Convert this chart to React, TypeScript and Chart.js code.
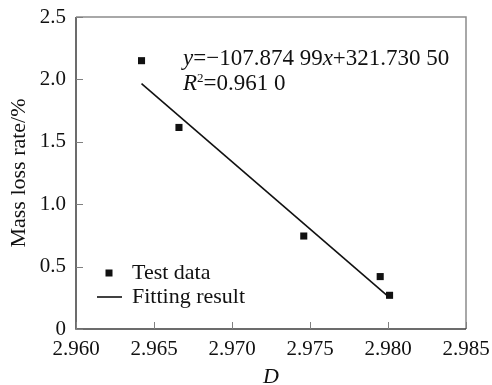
import React, { useEffect, useRef } from 'react';
import { Chart, registerables } from 'chart.js';

Chart.register(...registerables);

// ---- data ----
const testX = [2.9642, 2.9666, 2.9746, 2.9795, 2.9801];
const testY = [2.15, 1.615, 0.745, 0.42, 0.27];
const fitX = [2.9642, 2.9801];
const fitY = [1.966, 0.252];
const xTickValues = [2.96, 2.965, 2.97, 2.975, 2.98, 2.985];
const yTickValues = [0, 0.5, 1.0, 1.5, 2.0, 2.5];
const seriesNames = ['Test data', 'Fitting result'];
const xTitle = 'D';
const yTitle = 'Mass loss rate/%';
const eqLine1: [string, boolean][] = [['y', true], ['=\u2212107.874 99', false], ['x', true], ['+321.730 50', false]];
const eqLine2Main = 'R';
const eqLine2Sup = '2';
const eqLine2Rest = '=0.961 0';

const FONT = '"Liberation Serif", "Times New Roman", serif';
const TEXT = '#111';

const decoPlugin = {
  id: 'deco',
  beforeDatasetsDraw(chart: any) {
    const { ctx, chartArea: a, scales } = chart;
    const x = scales.x;
    const y = scales.y;
    ctx.save();
    // top / right frame
    ctx.strokeStyle = '#8c8c8c';
    ctx.lineWidth = 1.5;
    ctx.beginPath();
    ctx.moveTo(a.left, a.top);
    ctx.lineTo(a.right, a.top);
    ctx.lineTo(a.right, a.bottom);
    ctx.stroke();
    // axes
    ctx.strokeStyle = '#3c3c3c';
    ctx.beginPath();
    ctx.moveTo(a.left, a.top);
    ctx.lineTo(a.left, a.bottom);
    ctx.lineTo(a.right, a.bottom);
    ctx.stroke();
    // inner ticks
    ctx.strokeStyle = '#808080';
    ctx.lineWidth = 1;
    x.ticks.forEach((t: any) => {
      const px = Math.round(x.getPixelForValue(t.value)) + 0.5;
      ctx.beginPath();
      ctx.moveTo(px, a.bottom);
      ctx.lineTo(px, a.bottom - 7);
      ctx.stroke();
    });
    y.ticks.forEach((t: any) => {
      const py = Math.round(y.getPixelForValue(t.value)) + 0.5;
      ctx.beginPath();
      ctx.moveTo(a.left, py);
      ctx.lineTo(a.left + 7, py);
      ctx.stroke();
    });
    ctx.restore();
  },
  afterDraw(chart: any) {
    const { ctx, chartArea: a } = chart;
    ctx.save();
    ctx.fillStyle = TEXT;
    ctx.textBaseline = 'middle';

    // y title
    ctx.save();
    ctx.translate(19, (a.top + a.bottom) / 2);
    ctx.rotate(-Math.PI / 2);
    ctx.textAlign = 'center';
    ctx.font = `22px ${FONT}`;
    ctx.fillText(yTitle, 0, 0);
    ctx.restore();

    // x title
    ctx.textAlign = 'center';
    ctx.font = `italic 22px ${FONT}`;
    ctx.fillText(xTitle, (a.left + a.right) / 2, 377);

    // legend
    ctx.textAlign = 'left';
    ctx.font = `22px ${FONT}`;
    ctx.fillStyle = '#111';
    ctx.fillRect(a.left + 29.5, 269.5, 7, 7);
    ctx.strokeStyle = '#111';
    ctx.lineWidth = 1.6;
    ctx.beginPath();
    ctx.moveTo(a.left + 21, 297);
    ctx.lineTo(a.left + 46, 297);
    ctx.stroke();
    ctx.fillStyle = TEXT;
    ctx.fillText(seriesNames[0], a.left + 56, 273);
    ctx.fillText(seriesNames[1], a.left + 56, 297);

    // equation
    ctx.textBaseline = 'alphabetic';
    let cx = 183;
    eqLine1.forEach(([s, it]) => {
      ctx.font = `${it ? 'italic ' : ''}23px ${FONT}`;
      ctx.fillText(s, cx, 65);
      cx += ctx.measureText(s).width;
    });
    cx = 183;
    ctx.font = `italic 23px ${FONT}`;
    ctx.fillText(eqLine2Main, cx, 90);
    cx += ctx.measureText(eqLine2Main).width;
    ctx.font = `13px ${FONT}`;
    ctx.fillText(eqLine2Sup, cx, 82);
    cx += ctx.measureText(eqLine2Sup).width;
    ctx.font = `23px ${FONT}`;
    ctx.fillText(eqLine2Rest, cx, 90);
    ctx.restore();
  },
};

export default function App() {
  const ref = useRef<HTMLCanvasElement>(null);
  useEffect(() => {
    if (!ref.current) return;
    const chart = new Chart(ref.current, {
      type: 'scatter',
      data: {
        datasets: [
          {
            label: seriesNames[0],
            data: testX.map((v, i) => ({ x: v, y: testY[i] })),
            pointStyle: 'rect',
            pointRadius: 5,
            backgroundColor: '#111',
            borderColor: '#111',
            borderWidth: 0,
            showLine: false,
          },
          {
            label: seriesNames[1],
            data: fitX.map((v, i) => ({ x: v, y: fitY[i] })),
            showLine: true,
            pointRadius: 0,
            borderColor: '#111',
            borderWidth: 1.6,
            fill: false,
          },
        ],
      },
      options: {
        responsive: false,
        animation: false,
        layout: { padding: { top: 17, right: 26, left: 0, bottom: 0 } },
        plugins: { legend: { display: false }, tooltip: { enabled: false } },
        scales: {
          x: {
            type: 'linear',
            min: 2.96,
            max: 2.985,
            afterBuildTicks: (s: any) => {
              s.ticks = xTickValues.map((v) => ({ value: v }));
            },
            afterFit: (s: any) => {
              s.height = 56;
              s.paddingLeft = 0;
              s.paddingRight = 0;
            },
            grid: { display: false, drawTicks: false },
            border: { display: false },
            ticks: {
              padding: 10,
              color: TEXT,
              font: { family: FONT, size: 21, lineHeight: 1 },
              callback: (v: any) => Number(v).toFixed(3),
              maxRotation: 0,
              autoSkip: false,
            },
          },
          y: {
            type: 'linear',
            min: 0,
            max: 2.5,
            afterBuildTicks: (s: any) => {
              s.ticks = yTickValues.map((v) => ({ value: v }));
            },
            afterFit: (s: any) => {
              s.width = 76;
              s.paddingTop = 0;
              s.paddingBottom = 0;
            },
            grid: { display: false, drawTicks: false },
            border: { display: false },
            ticks: {
              padding: 10,
              color: TEXT,
              font: { family: FONT, size: 21, lineHeight: 1 },
              callback: (v: any) => (Number(v) === 0 ? '0' : Number(v).toFixed(1)),
              autoSkip: false,
            },
          },
        },
      },
      plugins: [decoPlugin],
    });
    return () => chart.destroy();
  }, []);
  return (
    <div style={{ position: 'fixed', left: 0, top: 0, width: 492, height: 385, background: '#fff' }}>
      <canvas ref={ref} width={492} height={385} style={{ display: 'block' }} />
    </div>
  );
}
